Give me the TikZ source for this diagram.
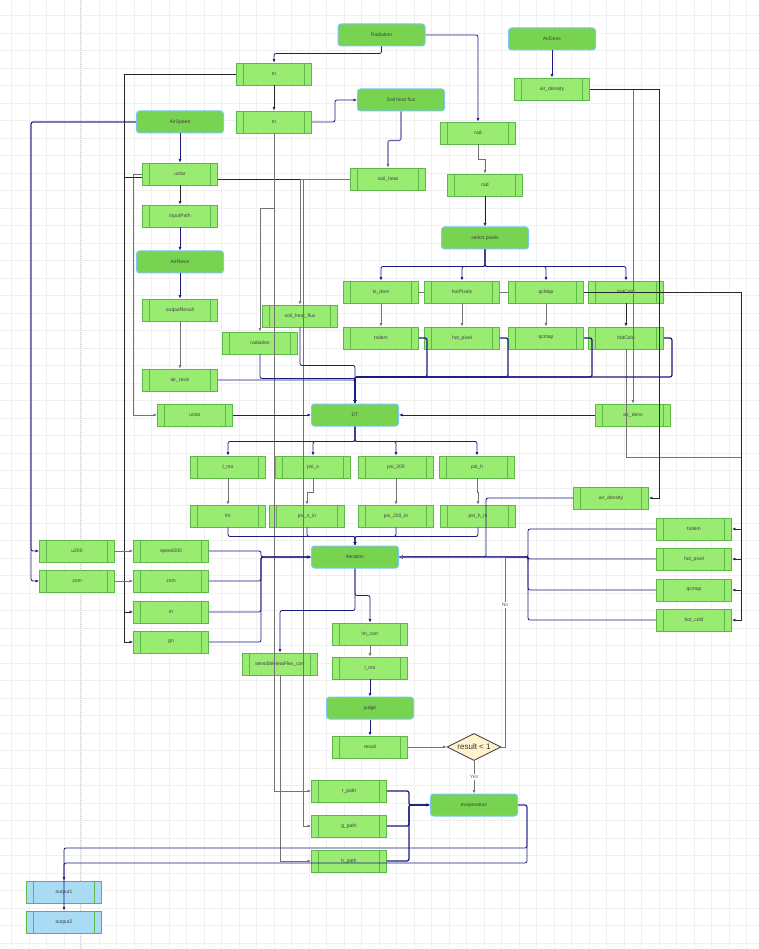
\documentclass[tikz,border=0pt]{standalone}
\usepackage{fontspec}
\setmainfont{Liberation Sans}
\usepackage{xcolor}
\usepackage{tikz}
\usetikzlibrary{arrows.meta, shapes.geometric}

\definecolor{procfill}{HTML}{9AEB72}
\definecolor{procline}{HTML}{5DB84A}
\definecolor{termfill}{HTML}{78D350}
\definecolor{termline}{HTML}{7CC8EE}
\definecolor{outfill}{HTML}{A9DBF5}
\definecolor{navyc}{HTML}{1A1A80}
\definecolor{gridc}{HTML}{F0F0F0}
\definecolor{decfill}{HTML}{FFF2CC}

\tikzset{
  proc/.style={draw=procline, fill=procfill, line width=0.9pt, minimum width=75pt, minimum height=22pt,
    inner sep=0pt, font=\fontsize{5}{6}\selectfont, text=black!75,
    path picture={\draw[procline, line width=0.9pt]
      ([xshift=7pt]path picture bounding box.north west) -- ([xshift=7pt]path picture bounding box.south west)
      ([xshift=-7pt]path picture bounding box.north east) -- ([xshift=-7pt]path picture bounding box.south east);}},
  term/.style={draw=termline, fill=termfill, rounded corners=3pt, line width=1pt, minimum width=87pt,
    minimum height=22pt, inner sep=0pt, font=\fontsize{5}{6}\selectfont, text=black!75},
  outbox/.style={proc, fill=outfill},
  dec/.style={diamond, aspect=2, draw=black!80, fill=decfill, line width=0.8pt, minimum width=54pt,
    minimum height=27pt, inner sep=0pt, font=\fontsize{8}{9}\selectfont, text=black!80},
  lbl/.style={fill=white, inner sep=1pt, font=\fontsize{5}{6}\selectfont, text=black!60},
  arr/.style={-{Latex[length=3.5pt,width=3pt]}},
  nline/.style={navyc, line width=0.8pt, rounded corners=2pt},
  tline/.style={navyc, line width=1.2pt, rounded corners=2pt},
  lline/.style={navyc!70, line width=1.1pt, rounded corners=2pt},
  gline/.style={black!55, line width=0.8pt},
  dline/.style={black!85, line width=0.7pt},
}

\begin{document}
\begin{tikzpicture}[x=1pt, y=-1pt]
\useasboundingbox (0,0) rectangle (759,949);
\fill[white] (0,0) rectangle (759,949);
\foreach \gx in {11.5,29,...,759} \draw[gridc, line width=0.5pt] (\gx,0) -- (\gx,949);
\foreach \gy in {15.5,33,...,949} \draw[gridc, line width=0.5pt] (0,\gy) -- (759,\gy);
\draw[black!20, dash pattern=on 1pt off 1pt] (80,0) -- (80,949);

% rounded blocks
\node[term] (radiationT) at (381.5,35) {Radiation};
\node[term] (airDensT) at (552,39) {AirDens};
\node[term] (airSpeedT) at (180,122) {AirSpeed};
\node[term] (soilHeatT) at (401,100) {Soil heat flux};
\node[term] (selectT) at (485,238) {select pixels};
\node[term] (airResisT) at (180,262) {AirResis};
\node[term] (dtT) at (355,415) {DT};
\node[term] (iterT) at (355,557) {iteration};
\node[term] (judgeT) at (370,708) {judge};
\node[term] (evapT) at (474,805) {evaporation};

% upper process boxes
\node[proc] (rnA) at (274,74) {rn};
\node[proc] (rnB) at (274,122) {rn};
\node[proc] (radA) at (478,133) {rad};
\node[proc] (radB) at (485,185) {rad};
\node[proc] (airDensityA) at (552,89) {air\_density};
\node[proc] (ustarA) at (180,174) {ustar};
\node[proc] (inputPath) at (180,216) {inputPath};
\node[proc] (soilHeat) at (388,179) {soil\_heat};
\node[proc] (outputResult) at (180,310) {outputResult};
\node[proc] (soilHeatFlux) at (300,316) {soil\_heat\_flux};
\node[proc] (radiation) at (260,343) {radiation};
\node[proc] (tsDemA) at (381,292) {ts\_dem};
\node[proc] (hotPixelsA) at (462,292) {hotPixels};
\node[proc] (qcMapA) at (546,292) {qcMap};
\node[proc] (hotColdA) at (626,292) {hotCold};
\node[proc] (tsdemB) at (381,338) {tsdem};
\node[proc] (hotPixelB) at (462,338) {hot\_pixel};
\node[proc] (qcmapB) at (546,338) {qcmap};
\node[proc] (hotColdB) at (626,338) {hotCold};
\node[proc] (airResis) at (180,380) {air\_resis};
\node[proc] (ustarB) at (195,415) {ustar};
\node[proc] (airDens) at (633,415) {air\_dens};

% stability terms
\node[proc] (lmoA) at (228,467) {l\_mo};
\node[proc] (psiS) at (313,467) {psi\_s};
\node[proc] (psi200) at (396,467) {psi\_200};
\node[proc] (psiH) at (477,467) {psi\_h};
\node[proc] (lmA) at (228,516) {lm};
\node[proc] (psiSIn) at (307,516) {psi\_s\_in};
\node[proc] (psi200In) at (396,516) {psi\_200\_in};
\node[proc] (psiHIn) at (478,516) {psi\_h\_in};
\node[proc] (airDensityB) at (611,498) {air\_density};

% iteration inputs
\node[proc] (uTwo) at (77,551) {u200};
\node[proc] (zomA) at (77,581) {zom};
\node[proc] (speed) at (171,551) {speed200};
\node[proc] (zomB) at (171,581) {zom};
\node[proc] (rnC) at (171,612) {rn};
\node[proc] (gn) at (171,642) {gn};
\node[proc] (tsdemR) at (694,529) {tsdem};
\node[proc] (hotPixelR) at (694,559) {hot\_pixel};
\node[proc] (qcmapR) at (694,590) {qcmap};
\node[proc] (hotColdR) at (694,620) {hot\_cold};

% lower chain
\node[proc] (lmCorr) at (370,634) {lm\_corr};
\node[proc] (lmoB) at (370,668) {l\_mo};
\node[proc] (sensible) at (280,664) {sensibleHeatFlex\_corr};
\node[proc] (result) at (370,747) {result};
\node[dec] (cond) at (474,747) {result < 1};
\node[proc] (rPath) at (349,791) {r\_path};
\node[proc] (gPath) at (349,826) {g\_path};
\node[proc] (hPath) at (349,861) {h\_path};
\node[outbox] (out1) at (64,892) {output1};
\node[outbox] (out2) at (64,922) {output2};

\coordinate (mergeT) at (355,377);
\coordinate (mergeL) at (261,557);
\coordinate (mergeRa) at (486,557);
\coordinate (mergeRb) at (528,557);
\coordinate (mergeRc) at (505,557);
\coordinate (trunkR) at (741,292);
\coordinate (trunkLow) at (741,457);
\coordinate (busA) at (64,848);
\coordinate (busB) at (64,863);

% radiation branch
\draw[nline,arr] (radiationT.south) -- ++(0,7) -| (rnA.north);
\draw[nline,arr] (radiationT.east) -| (radA.north);
\draw[dline,arr] (rnA.south) -- (rnB.north);
\draw[nline,arr] (rnB.east) -- ++(23,0) |- (soilHeatT.west);
\draw[lline,arr] (soilHeatT.south) -- ++(0,29) -| (soilHeat.north);
\draw[gline,arr] (radA.south) -- ++(0,15) -| (radB.north);
\draw[nline,arr] (radB.south) -- (selectT.north);
\foreach \n in {tsDemA,hotPixelsA,qcMapA,hotColdA}
  \draw[nline,arr] (selectT.south) -- ++(0,17) -| (\n.north);
\draw[gline,arr] (tsDemA.south) -- (tsdemB.north);
\draw[gline,arr] (hotPixelsA.south) -- (hotPixelB.north);
\draw[gline,arr] (qcMapA.south) -- (qcmapB.north);
\draw[dline,arr] (hotColdA.south) -- (hotColdB.north);
\draw[gline] (tsDemA.east) -- (hotPixelsA.west);
\draw[gline] (hotPixelsA.east) -- (qcMapA.west);
\draw[dline] (qcMapA.east) -- (trunkR);
\foreach \n in {tsdemR,hotPixelR,qcmapR,hotColdR}
  \draw[dline,arr] (trunkR) |- (\n.east);
\draw[gline] (hotColdB.south) |- (trunkLow);

% air density
\draw[nline,arr] (airDensT.south) -- (airDensityA.north);
\draw[gline,arr] (airDensityA.east) -| (airDens.north);
\draw[dline,arr] (airDensityA.east) -| ([xshift=10pt]airDensityB.east) -- (airDensityB.east);
\draw[nline,arr] (airDens.west) -- (dtT.east);

% air speed
\draw[nline,arr] (airSpeedT.west) -| ([xshift=-8pt]uTwo.west) -- (uTwo.west);
\draw[nline,arr] (airSpeedT.west) -| ([xshift=-8pt]zomA.west) -- (zomA.west);
\draw[nline,arr] (airSpeedT.south) -- (ustarA.north);
\draw[dline,arr] (ustarA.south) -- (inputPath.north);
\draw[nline,arr] (inputPath.south) -- (airResisT.north);
\draw[nline,arr] (airResisT.south) -- (outputResult.north);
\draw[gline,arr] (outputResult.south) -- (airResis.north);
\draw[gline,arr] (ustarA.west) -- ++(-8.5,0) |- (ustarB.west);
\draw[dline] (ustarA.east |- soilHeat.west) -- (soilHeat.west);
\draw[dline,arr] (rnA.west) -| ([xshift=-9pt]rnC.west) -- (rnC.west);
\draw[dline,arr] ([yshift=-3pt]ustarA.west) -| ([xshift=-9pt]gn.west) -- (gn.west);

% soil heat and radiation to DT
\draw[gline,arr] (soilHeat.west) -| (soilHeatFlux.north);
\draw[gline,arr] (soilHeat.west) -- ++(-47,0) |- (gPath.west);
\draw[gline,arr] (rnB.south) -- ++(0,75) -| (radiation.north);
\draw[gline,arr] (rnB.south) |- (rPath.west);
\draw[nline,arr] (radiation.south) -- ++(0,24) -| (dtT.north);
\draw[nline,arr] (soilHeatFlux.south) -- ++(0,38) -| (dtT.north);
\draw[nline,arr] (airResis.east) -| (dtT.north);
\draw[nline,arr] (ustarB.east) -- (dtT.west);
\foreach \n in {tsdemB,hotPixelB,qcmapB,hotColdB}
  \draw[tline,arr] (\n.east) -- ++(8,0) |- (mergeT) -- (dtT.north);

% DT to stability terms
\foreach \n in {lmoA,psiS,psi200,psiH}
  \draw[nline,arr] (dtT.south) -- ++(0,15) -| (\n.north);
\draw[gline,arr] (lmoA.south) -- (lmA.north);
\draw[gline,arr] (psiS.south) -- ++(0,14) -| (psiSIn.north);
\draw[gline,arr] (psi200.south) -- (psi200In.north);
\draw[gline,arr] (psiH.south) -- ++(0,14) -| (psiHIn.north);
\foreach \n in {lmA,psiSIn,psi200In,psiHIn}
  \draw[nline,arr] (\n.south) -- ++(0,9) -| (iterT.north);

% into iteration
\foreach \n in {speed,zomB,rnC,gn}
  \draw[nline,arr] (\n.east) -| (mergeL) -- (iterT.west);
\draw[gline,arr] (uTwo.east) -- (speed.west);
\draw[gline,arr] (zomA.east) -- (zomB.west);
\draw[nline,arr] (airDensityB.west) -| (mergeRa) -- (iterT.east);
\foreach \n in {tsdemR,hotPixelR,qcmapR,hotColdR}
  \draw[nline,arr] (\n.west) -| (mergeRb) -- (iterT.east);

% correction loop
\draw[nline,arr] (iterT.south) -- ++(0,27) -| (lmCorr.north);
\draw[nline,arr] (iterT.south) -- ++(0,42) -| (sensible.north);
\draw[gline,arr] (lmCorr.south) -- (lmoB.north);
\draw[nline,arr] (lmoB.south) -- (judgeT.north);
\draw[nline,arr] (judgeT.south) -- (result.north);
\draw[gline,arr] (result.east) -- (cond.west);
\draw[gline,arr] (cond.east) -| (mergeRc) -- (iterT.east);
\node[lbl] (noLbl) at (505,605) {No};
\draw[gline,arr] (cond.south) -- (evapT.north);
\node[lbl] (yesLbl) at (474,777) {Yes};
\draw[gline,arr] (sensible.south) |- (hPath.west);

% evaporation
\foreach \n in {rPath,gPath,hPath}
  \draw[tline,arr] (\n.east) -- ++(22,0) |- (evapT.west);
\draw[nline,arr] (evapT.east) -- ++(9,0) |- (busA) -- (out1.north);
\draw[nline,arr] (evapT.east) -- ++(9,0) |- (busB) -- (out2.north);
\end{tikzpicture}
\end{document}
